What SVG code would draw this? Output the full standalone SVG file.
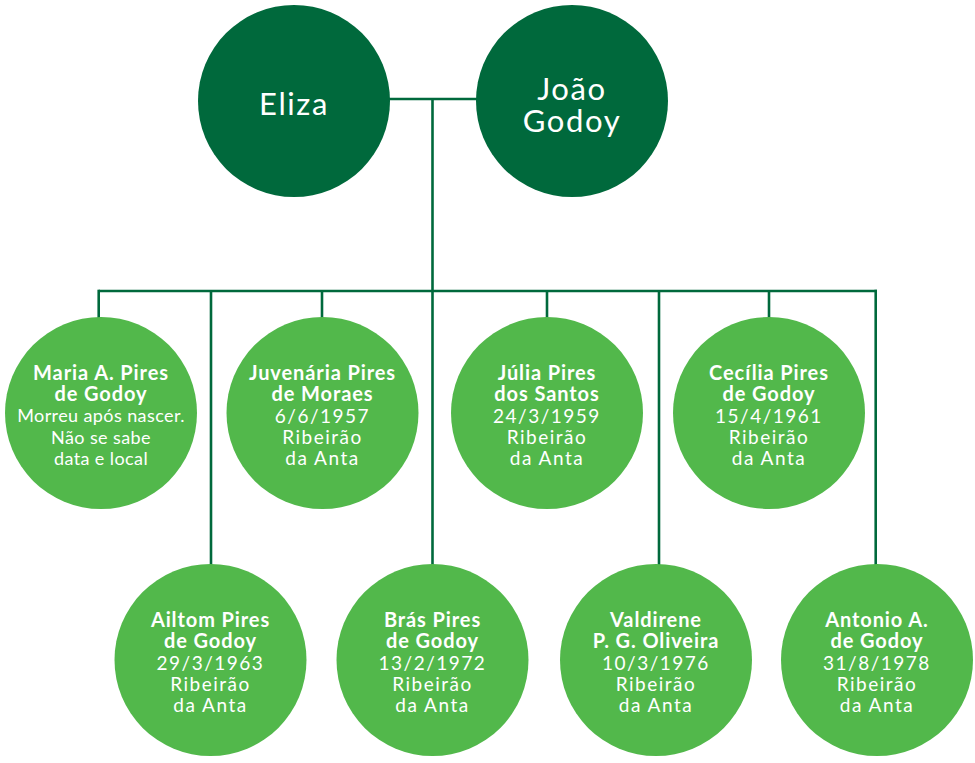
<svg xmlns="http://www.w3.org/2000/svg" width="975" height="763" viewBox="0 0 975 763">
  <style>
    .parent { fill: #00693c; }
    .child { fill: #52b84b; }
    .link { stroke: #00693c; stroke-width: 2.6; fill: none; }
    text { fill: #ffffff; font-family: "Lato", "Open Sans", sans-serif; text-anchor: middle; }
    .big { font-size: 31px; letter-spacing: 1.6px; }
    .name { font-size: 20px; font-weight: bold; letter-spacing: 0.9px; }
    .info { font-size: 19px; letter-spacing: 1.5px; }
    .note { font-size: 18px; letter-spacing: 0.4px; }
  </style>
  <rect width="975" height="763" fill="#ffffff"/>

  <g id="connectors">
    <line class="link" x1="385" y1="99" x2="480" y2="99"/>
    <line class="link" x1="432.5" y1="99" x2="432.5" y2="570"/>
    <line class="link" x1="98.7" y1="291" x2="877" y2="291"/>
    <line class="link" x1="98.7" y1="289.7" x2="98.7" y2="320"/>
    <line class="link" x1="322" y1="291" x2="322" y2="320"/>
    <line class="link" x1="547" y1="291" x2="547" y2="320"/>
    <line class="link" x1="769" y1="291" x2="769" y2="320"/>
    <line class="link" x1="211" y1="291" x2="211" y2="570"/>
    <line class="link" x1="659" y1="291" x2="659" y2="570"/>
    <line class="link" x1="875.7" y1="289.7" x2="875.7" y2="570"/>
  </g>

  <g id="eliza">
    <circle class="parent" cx="294" cy="101" r="96"/>
    <text class="big" x="294" y="115">Eliza</text>
  </g>
  <g id="joao-godoy">
    <circle class="parent" cx="572" cy="101" r="96"/>
    <text class="big" x="572" y="100">João</text>
    <text class="big" x="572" y="132">Godoy</text>
  </g>

  <g id="maria">
    <circle class="child" cx="101" cy="413" r="96"/>
    <text class="name" x="101" y="380">Maria A. Pires</text>
    <text class="name" x="101" y="401">de Godoy</text>
    <text class="note" x="101" y="422">Morreu após nascer.</text>
    <text class="note" x="101" y="444">Não se sabe</text>
    <text class="note" x="101" y="465">data e local</text>
  </g>
  <g id="juvenaria">
    <circle class="child" cx="322.5" cy="413" r="96"/>
    <text class="name" x="322.5" y="380">Juvenária Pires</text>
    <text class="name" x="322.5" y="401">de Moraes</text>
    <text class="info" x="322.5" y="423">6/6/1957</text>
    <text class="info" x="322.5" y="444">Ribeirão</text>
    <text class="info" x="322.5" y="465">da Anta</text>
  </g>
  <g id="julia">
    <circle class="child" cx="547" cy="413" r="96"/>
    <text class="name" x="547" y="380">Júlia Pires</text>
    <text class="name" x="547" y="401">dos Santos</text>
    <text class="info" x="547" y="423">24/3/1959</text>
    <text class="info" x="547" y="444">Ribeirão</text>
    <text class="info" x="547" y="465">da Anta</text>
  </g>
  <g id="cecilia">
    <circle class="child" cx="769" cy="413" r="96"/>
    <text class="name" x="769" y="380">Cecília Pires</text>
    <text class="name" x="769" y="401">de Godoy</text>
    <text class="info" x="769" y="423">15/4/1961</text>
    <text class="info" x="769" y="444">Ribeirão</text>
    <text class="info" x="769" y="465">da Anta</text>
  </g>

  <g id="ailtom">
    <circle class="child" cx="210.5" cy="660" r="96"/>
    <text class="name" x="210.5" y="627">Ailtom Pires</text>
    <text class="name" x="210.5" y="648">de Godoy</text>
    <text class="info" x="210.5" y="670">29/3/1963</text>
    <text class="info" x="210.5" y="691">Ribeirão</text>
    <text class="info" x="210.5" y="712">da Anta</text>
  </g>
  <g id="bras">
    <circle class="child" cx="432.5" cy="660" r="96"/>
    <text class="name" x="432.5" y="627">Brás Pires</text>
    <text class="name" x="432.5" y="648">de Godoy</text>
    <text class="info" x="432.5" y="670">13/2/1972</text>
    <text class="info" x="432.5" y="691">Ribeirão</text>
    <text class="info" x="432.5" y="712">da Anta</text>
  </g>
  <g id="valdirene">
    <circle class="child" cx="656" cy="660" r="96"/>
    <text class="name" x="656" y="627">Valdirene</text>
    <text class="name" x="656" y="648">P. G. Oliveira</text>
    <text class="info" x="656" y="670">10/3/1976</text>
    <text class="info" x="656" y="691">Ribeirão</text>
    <text class="info" x="656" y="712">da Anta</text>
  </g>
  <g id="antonio">
    <circle class="child" cx="877" cy="660" r="96"/>
    <text class="name" x="877" y="627">Antonio A.</text>
    <text class="name" x="877" y="648">de Godoy</text>
    <text class="info" x="877" y="670">31/8/1978</text>
    <text class="info" x="877" y="691">Ribeirão</text>
    <text class="info" x="877" y="712">da Anta</text>
  </g>
</svg>
